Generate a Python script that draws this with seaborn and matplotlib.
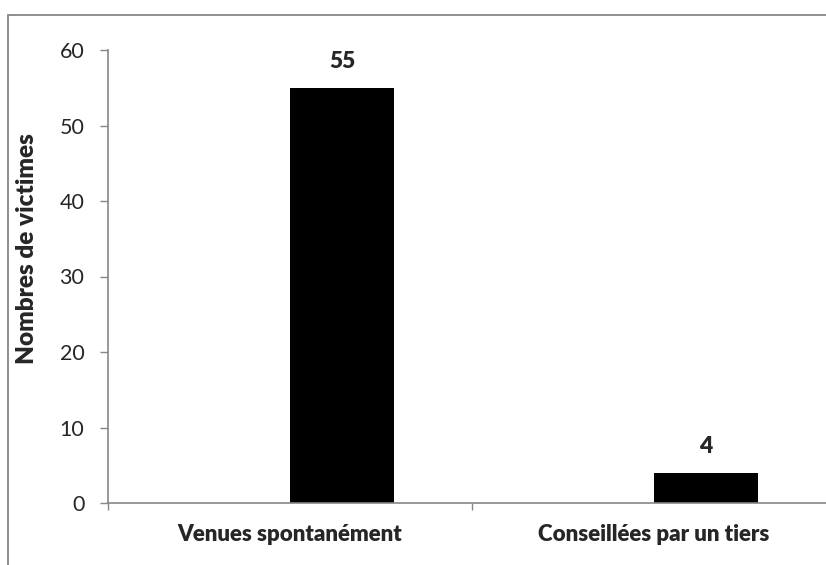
import pandas as pd
import matplotlib
matplotlib.use("Agg")
import matplotlib.pyplot as plt
import matplotlib.patches as mpatches
import seaborn as sns

# data
categories = ["Venues spontanément", "Conseillées par un tiers"]
series_names = ["vide", "victimes"]
values_vide = [0, 0]          # empty first series (Excel clustered layout)
values_victimes = [55, 4]

df = pd.DataFrame({
    "categorie": categories * 2,
    "serie": [series_names[0]] * 2 + [series_names[1]] * 2,
    "valeur": values_vide + values_victimes,
})

sns.set_style("white")
plt.rcParams["font.family"] = ["Lato", "DejaVu Sans"]
grey = "#868686"
strong = "heavy"

fig = plt.figure(figsize=(8.26, 5.65), dpi=100)
ax = fig.add_axes([108 / 826, 1 - 503 / 565, (836 - 108) / 826, (503 - 50) / 565])

sns.barplot(data=df, x="categorie", y="valeur", hue="serie", hue_order=series_names,
            palette=["black", "black"], width=0.571, gap=0, linewidth=0,
            legend=False, ax=ax)

ax.set_ylim(0, 60)
ax.set_xlim(-0.5, 1.5)
ax.set_yticks(range(0, 61, 10))
ax.tick_params(axis="y", labelsize=15.5, length=6, width=1, color=grey, direction="out", pad=11, left=True)
ax.set_xticks(range(len(categories)))
ax.set_xticklabels(categories, fontsize=16, fontweight=strong)
ax.tick_params(axis="x", which="major", length=0, pad=15)
ax.set_xticks([-0.5, 0.5, 1.5], minor=True)
ax.tick_params(axis="x", which="minor", length=5, width=1, color=grey, direction="out", bottom=True)

for s in ["top", "right"]:
    ax.spines[s].set_visible(False)
for s in ["left", "bottom"]:
    ax.spines[s].set_color(grey)
    ax.spines[s].set_linewidth(1.2)

ax.set_xlabel("")
ax.set_ylabel("Nombres de victimes", fontsize=17.5, fontweight=strong)
ax.yaxis.set_label_coords(-70 / 728, (503 - 249) / 453)

# value labels on the real series only
for p in ax.patches:
    h = p.get_height()
    if h > 0:
        ax.annotate(format(h, ".0f"), (p.get_x() + p.get_width() / 2, h),
                    ha="center", va="center", xytext=(0, 19),
                    textcoords="offset points", fontsize=16.5, fontweight=strong)

# outer chart frame (cropped on right and bottom)
frame = mpatches.Rectangle((8 / 826, -0.2), 1.2, 1 - 15 / 565 + 0.2,
                           transform=fig.transFigure, fill=False,
                           edgecolor=grey, linewidth=1.3)
fig.patches.append(frame)

fig.savefig("out.png", dpi=100)
